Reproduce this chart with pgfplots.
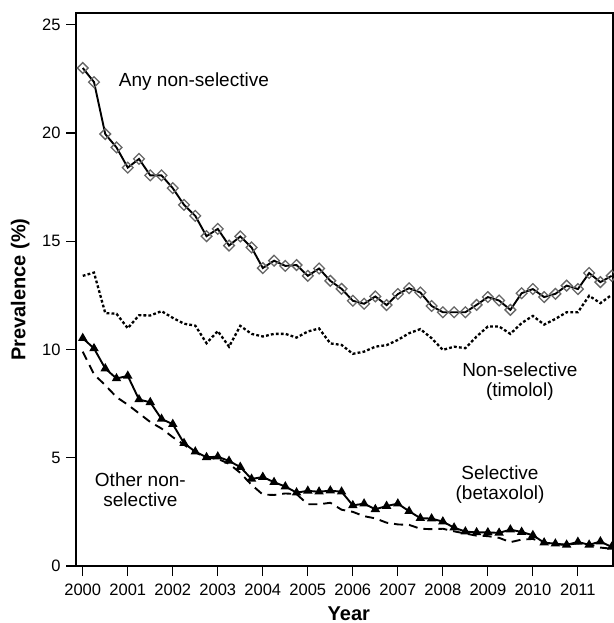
\documentclass[border=0pt]{standalone}
\usepackage{fontspec}
\setmainfont{Liberation Sans}
\usepackage{pgfplots}
\usepackage{pgfplotstable}
\pgfplotsset{compat=1.18}
\pgfplotstableread{
x anyns timolol sel other
2000.00 23.00 13.40 10.52 9.90
2000.25 22.35 13.55 10.05 8.85
2000.50 19.95 11.68 9.12 8.35
2000.75 19.33 11.65 8.66 7.80
2001.00 18.40 10.98 8.78 7.45
2001.25 18.80 11.58 7.69 7.05
2001.50 18.04 11.57 7.56 6.65
2001.75 18.04 11.77 6.79 6.35
2002.00 17.45 11.46 6.55 5.95
2002.25 16.68 11.19 5.67 5.60
2002.50 16.17 11.10 5.28 5.25
2002.75 15.23 10.29 5.02 5.00
2003.00 15.57 10.85 5.05 4.95
2003.25 14.80 10.13 4.85 4.72
2003.50 15.22 11.09 4.57 4.30
2003.75 14.71 10.72 4.02 3.75
2004.00 13.76 10.60 4.11 3.30
2004.25 14.10 10.72 3.87 3.28
2004.50 13.86 10.72 3.67 3.35
2004.75 13.90 10.55 3.39 3.32
2005.00 13.40 10.83 3.47 2.85
2005.25 13.74 10.97 3.43 2.85
2005.50 13.17 10.28 3.48 2.92
2005.75 12.80 10.21 3.43 2.60
2006.00 12.25 9.80 2.80 2.50
2006.25 12.11 9.90 2.88 2.30
2006.50 12.45 10.13 2.62 2.20
2006.75 12.05 10.20 2.77 2.00
2007.00 12.56 10.44 2.88 1.92
2007.25 12.83 10.75 2.53 1.90
2007.50 12.63 10.94 2.21 1.72
2007.75 12.01 10.52 2.19 1.70
2008.00 11.72 9.98 2.05 1.72
2008.25 11.72 10.13 1.77 1.60
2008.50 11.72 10.06 1.59 1.50
2008.75 12.06 10.60 1.55 1.40
2009.00 12.42 11.06 1.55 1.38
2009.25 12.26 11.06 1.53 1.30
2009.50 11.83 10.72 1.68 1.10
2009.75 12.60 11.22 1.57 1.22
2010.00 12.79 11.55 1.42 1.25
2010.25 12.42 11.15 1.08 1.08
2010.50 12.57 11.41 1.03 1.00
2010.75 12.95 11.72 0.98 0.98
2011.00 12.79 11.72 1.11 1.05
2011.25 13.53 12.48 0.98 1.00
2011.50 13.11 12.14 1.13 0.85
2011.75 13.40 12.52 0.88 0.80
}\data
\begin{document}
\begin{tikzpicture}
\useasboundingbox (-76bp,-57bp) rectangle (538bp,566bp);
\begin{axis}[
 at={(0,0)}, anchor=south west,
 width=537bp, height=553bp, scale only axis,
 xmin=1999.85, xmax=2011.78, ymin=0, ymax=25.54,
 xtick={2000,2001,...,2011}, ytick={0,5,...,25},
 tick align=outside, tick pos=left,
 major tick length=10bp,
 every tick/.style={black, line width=1.2bp},
 axis line style={line width=1.2bp},
 /pgf/number format/assume math mode=true,
 /pgf/number format/1000 sep={},
 tick label style={font=\fontsize{16.5bp}{19bp}\selectfont},
 xticklabel style={yshift=-4bp},
 yticklabel style={xshift=-2bp},
 xlabel={Year}, ylabel={Prevalence (\%)},
 label style={font=\fontsize{20bp}{24bp}\selectfont\bfseries},
 xlabel style={at={(axis description cs:0.508,-0.086)}, anchor=center},
 ylabel style={at={(axis description cs:-0.104,0.5)}, anchor=center},
]
\addplot[black, line width=1.9bp, dash pattern=on 9bp off 6bp] table[x=x,y=other] {\data};
\addplot[black, line width=2.3bp, dash pattern=on 2.8bp off 2.2bp] table[x=x,y=timolol] {\data};
\addplot[black, line width=1.9bp, mark=triangle*, mark size=3.6bp, mark options={solid}] table[x=x,y=sel] {\data};
\addplot[black, line width=1.9bp, mark=square, mark size=3.8bp, mark options={solid, rotate=45, draw=black!60, line width=1.3bp}] table[x=x,y=anyns] {\data};
\node[font=\fontsize{19bp}{20bp}\selectfont] at (axis cs:2002.47,22.37) {Any non-selective};
\node[font=\fontsize{19bp}{20bp}\selectfont, align=center] at (axis cs:2009.71,8.52) {Non-selective\\(timolol)};
\node[font=\fontsize{19bp}{20bp}\selectfont, align=center] at (axis cs:2009.27,3.74) {Selective\\(betaxolol)};
\node[font=\fontsize{19bp}{20bp}\selectfont, align=center] at (axis cs:2001.28,3.54) {Other non-\\selective};
\end{axis}
\end{tikzpicture}
\end{document}
